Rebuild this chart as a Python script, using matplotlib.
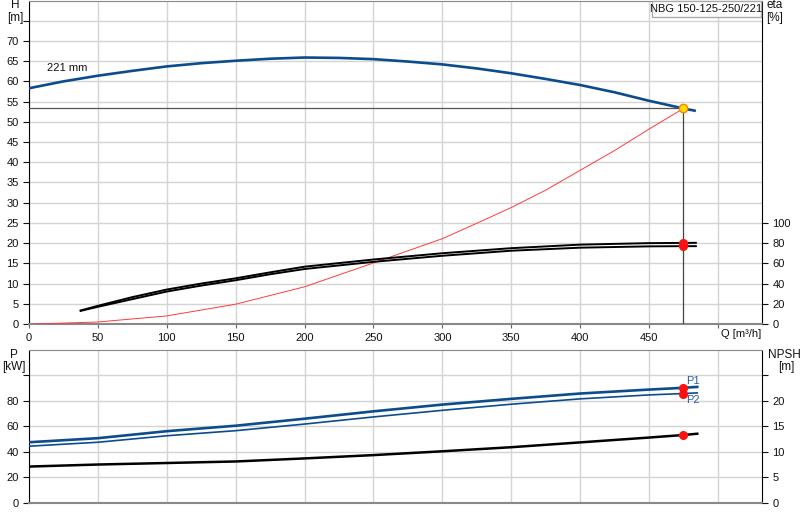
import matplotlib
matplotlib.use("Agg")
import matplotlib.pyplot as plt
from matplotlib.patches import Rectangle

plt.rcParams['font.family'] = ['Liberation Sans', 'DejaVu Sans']

# ---- data ----
q_h = [0, 25, 50, 75, 100, 125, 150, 175, 200, 225, 250, 275, 300, 325, 350, 375, 400, 425, 450, 475, 484]
h_vals = [58.3, 60.0, 61.4, 62.6, 63.7, 64.5, 65.1, 65.6, 65.9, 65.8, 65.5, 64.9, 64.2, 63.2, 62.0,
          60.6, 59.1, 57.3, 55.2, 53.3, 52.7]

q_sys = [4.4, 50, 100, 150, 200, 250, 300, 325, 350, 375, 400, 425, 450, 475]
h_sys = [0, 0.5, 2.0, 4.9, 9.2, 15.1, 21.1, 24.9, 28.8, 33.1, 38.0, 42.9, 48.2, 53.3]

q_eta = [37.5, 50, 75, 100, 125, 150, 175, 200, 250, 300, 350, 400, 450, 475, 484]
eta_1 = [13.4, 18.0, 26.6, 34.1, 40.0, 45.2, 51.1, 56.7, 63.8, 70.0, 75.0, 78.5, 80.0, 80.2, 80.3]
eta_2 = [13.0, 17.0, 24.6, 32.1, 38.0, 43.3, 49.2, 54.4, 61.5, 67.5, 72.5, 75.5, 76.8, 77.0, 77.0]

q_p = [0, 50, 100, 150, 200, 250, 300, 350, 400, 450, 475, 485]
p1 = [47.5, 50.7, 56.2, 60.5, 66.0, 71.8, 77.1, 81.6, 85.8, 88.9, 90.3, 91.0]
p2 = [44.4, 47.5, 52.6, 56.6, 61.8, 67.4, 72.6, 77.4, 81.6, 84.7, 85.8, 86.3]
npsh = [7.1, 7.5, 7.8, 8.1, 8.7, 9.35, 10.1, 10.9, 11.85, 12.8, 13.3, 13.55]

duty_q = 475
duty_h = 53.3
duty_eta = [80.2, 77.0]
duty_p = [90.3, 85.8]
duty_npsh = 13.3

x_ticks = [0, 50, 100, 150, 200, 250, 300, 350, 400, 450]
model_label = "NBG 150-125-250/221"
curve_label = "221 mm"

# ---- styling ----
BLUE = '#0b4d8c'
GRID = '#d4d4d4'
TXT = '#111111'
FS = 8
W, H = 800, 520
fig = plt.figure(figsize=(8, 5.2), dpi=100)

def fx(px):
    return px / W

def fy(py):
    return 1 - py / H

ax = fig.add_axes([fx(29), fy(324), fx(762) - fx(29), fy(0.5) - fy(324)])
axb = fig.add_axes([fx(29), fy(502.7), fx(762) - fx(29), fy(350) - fy(502.7)])

XMAX = 532
for a in (ax, axb):
    a.set_xlim(0, XMAX)
    a.set_xticks(x_ticks + [500])
    a.grid(True, color=GRID, lw=1.0)
    a.set_axisbelow(True)
    a.spines['top'].set_color('#888888')
    a.spines['bottom'].set_color('#888888')
    a.spines['bottom'].set_linewidth(1.5)
    a.spines['left'].set_color('black')
    a.spines['right'].set_color('black')
    a.tick_params(axis='both', labelsize=FS, colors=TXT, length=4, width=0.8)
    a.tick_params(axis='x', length=3, color='#666666')

# ---- top panel ----
ax.set_ylim(0, 80)
ax.set_yticks(list(range(0, 80, 5)))
ax.set_yticklabels([str(v) if v <= 70 else '' for v in range(0, 80, 5)])
ax.set_xticklabels([str(v) for v in x_ticks] + [''])

axr = ax.twinx()
axr.set_ylim(0, 320)
axr.set_yticks(list(range(0, 101, 20)))
axr.tick_params(axis='y', labelsize=FS, colors=TXT, length=4, width=0.8)
for s in axr.spines.values():
    s.set_visible(False)

ax.plot(q_h, h_vals, color=BLUE, lw=1.9, solid_capstyle='butt', zorder=4)
ax.plot(q_sys, h_sys, color='#ff3b3b', lw=0.7, zorder=3)
axr.plot(q_eta, eta_1, color='black', lw=1.4, zorder=4)
axr.plot(q_eta, eta_2, color='black', lw=1.4, zorder=4)

ax.plot([0, duty_q], [duty_h, duty_h], color='#555555', lw=0.9, zorder=3)
ax.plot([duty_q, duty_q], [0, duty_h], color='#444444', lw=0.9, zorder=3)
ax.plot([duty_q], [duty_h], 'o', ms=6, mfc='#ffe000', mec='#ff7f00', mew=1.0, zorder=6)
axr.plot([duty_q] * 2, duty_eta, 'o', ms=5.5, color='#ff1010', zorder=6)

ax.text(13, 62.6, curve_label, fontsize=FS, color=TXT)

fig.text(fx(15), fy(5), 'H', fontsize=FS + 0.5, color=TXT, ha='center', va='center')
fig.text(fx(15), fy(18), '[m]', fontsize=FS + 0.5, color=TXT, ha='center', va='center')
fig.text(fx(775), fy(5), 'eta', fontsize=FS + 0.5, color=TXT, ha='center', va='center')
fig.text(fx(775), fy(18), '[%]', fontsize=FS + 0.5, color=TXT, ha='center', va='center')
fig.text(fx(721), fy(334), 'Q [m³/h]', fontsize=FS, color=TXT, ha='left', va='center')

box = Rectangle((fx(652), fy(17)), fx(761) - fx(652), fy(1) - fy(17),
                transform=fig.transFigure, fc='white', ec='#aaaaaa', lw=1.0, zorder=10)
fig.patches.append(box)
fig.text(fx(706.5), fy(9), model_label, fontsize=FS, color=TXT,
         ha='center', va='center', zorder=11)

# ---- bottom panel ----
axb.set_ylim(0, 120)
axb.set_yticks(list(range(0, 101, 20)))
axb.set_yticklabels([str(v) if v <= 80 else '' for v in range(0, 101, 20)])
axb.set_xticklabels([])
axb.tick_params(axis='x', length=0)

axbr = axb.twinx()
axbr.set_ylim(0, 30)
axbr.set_yticks(list(range(0, 26, 5)))
axbr.set_yticklabels([str(v) if v <= 20 else '' for v in range(0, 26, 5)])
axbr.tick_params(axis='y', labelsize=FS, colors=TXT, length=4, width=0.8)
for s in axbr.spines.values():
    s.set_visible(False)

axb.plot(q_p, p1, color=BLUE, lw=1.9, zorder=4)
axb.plot(q_p, p2, color=BLUE, lw=1.2, zorder=4)
axbr.plot(q_p, npsh, color='black', lw=1.8, zorder=4)
axb.plot([duty_q] * 2, duty_p, 'o', ms=5.5, color='#ff1010', zorder=6)
axbr.plot([duty_q], [duty_npsh], 'o', ms=5.5, color='#ff1010', zorder=6)

axb.text(477, 95.5, 'P1', fontsize=FS, color='#2a5f9e', ha='left', va='center')
axb.text(477, 80.5, 'P2', fontsize=FS, color='#2a5f9e', ha='left', va='center')

fig.text(fx(14), fy(355), 'P', fontsize=FS + 0.5, color=TXT, ha='center', va='center')
fig.text(fx(14), fy(367), '[kW]', fontsize=FS + 0.5, color=TXT, ha='center', va='center')
fig.text(fx(784), fy(355), 'NPSH', fontsize=FS + 0.5, color=TXT, ha='center', va='center')
fig.text(fx(786), fy(367), '[m]', fontsize=FS + 0.5, color=TXT, ha='center', va='center')

fig.savefig('out.png', dpi=100)
